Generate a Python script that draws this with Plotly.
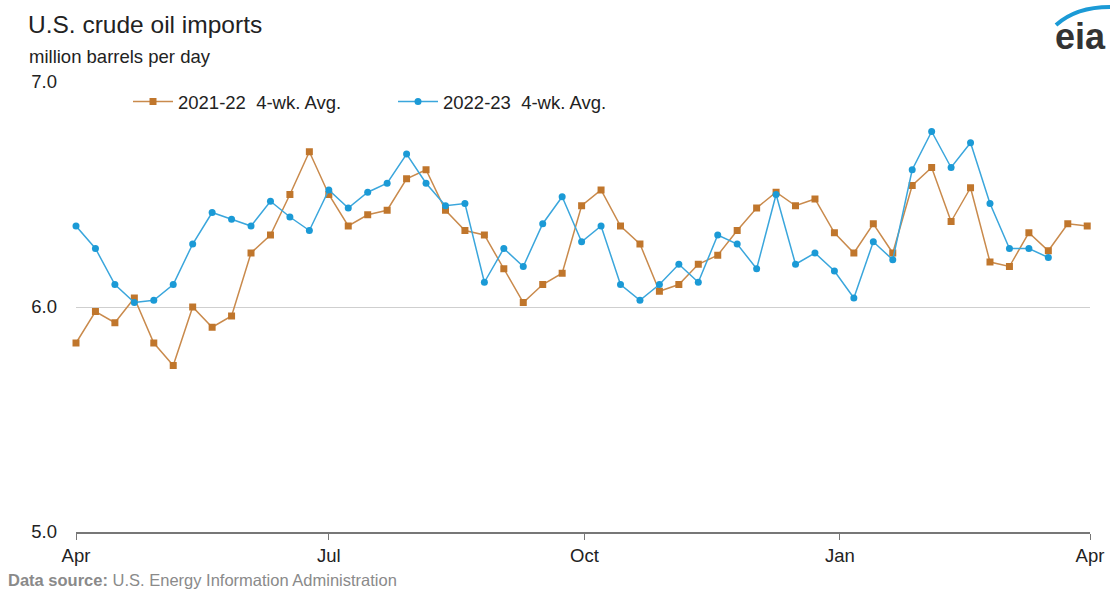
import pandas as pd
import plotly.graph_objects as go

# Week positions on the common Apr-to-Apr axis
weeks = pd.date_range("2022-04-01", periods=53, freq="7D")

imports_2021_22 = [
    5.84, 5.98, 5.93, 6.04, 5.84, 5.74, 6.00, 5.91, 5.96, 6.24,
    6.32, 6.50, 6.69, 6.50, 6.36, 6.41, 6.43, 6.57, 6.61, 6.43,
    6.34, 6.32, 6.17, 6.02, 6.10, 6.15, 6.45, 6.52, 6.36, 6.28,
    6.07, 6.10, 6.19, 6.23, 6.34, 6.44, 6.51, 6.45, 6.48, 6.33,
    6.24, 6.37, 6.24, 6.54, 6.62, 6.38, 6.53, 6.20, 6.18, 6.33,
    6.25, 6.37, 6.36,
]
imports_2022_23 = [
    6.36, 6.26, 6.10, 6.02, 6.03, 6.10, 6.28, 6.42, 6.39, 6.36,
    6.47, 6.40, 6.34, 6.52, 6.44, 6.51, 6.55, 6.68, 6.55, 6.45,
    6.46, 6.11, 6.26, 6.18, 6.37, 6.49, 6.29, 6.36, 6.10, 6.03,
    6.10, 6.19, 6.11, 6.32, 6.28, 6.17, 6.50, 6.19, 6.24, 6.16,
    6.04, 6.29, 6.21, 6.61, 6.78, 6.62, 6.73, 6.46, 6.26, 6.26,
    6.22,
]

tick_vals = ["2022-04-01", "2022-07-01", "2022-10-01", "2023-01-01", "2023-04-01"]
tick_text = ["Apr", "Jul", "Oct", "Jan", "Apr"]

ORANGE = "#c0762c"
BLUE = "#1b9ad6"

W, H = 1110, 590
L, R, T, B = 76, 20, 82, 58
pw, ph = W - L - R, H - T - B


def px2paper(px, py):
    return (px - L) / pw, 1 - (py - T) / ph


fig = go.Figure()
fig.add_trace(go.Scatter(
    x=weeks[:len(imports_2021_22)], y=imports_2021_22,
    name="2021-22  4-wk. Avg.", mode="lines+markers",
    line=dict(color="#c98a4c", width=1.5),
    marker=dict(symbol="square", size=7, color=ORANGE),
    cliponaxis=False,
))
fig.add_trace(go.Scatter(
    x=weeks[:len(imports_2022_23)], y=imports_2022_23,
    name="2022-23  4-wk. Avg.", mode="lines+markers",
    line=dict(color="#3aa6dc", width=1.5),
    marker=dict(symbol="circle", size=7, color=BLUE),
    cliponaxis=False,
))

lx, ly = px2paper(128, 102)

fig.update_layout(
    width=W, height=H,
    margin=dict(l=L, r=R, t=T, b=B),
    plot_bgcolor="white", paper_bgcolor="white",
    font=dict(family="Liberation Sans, Arial, sans-serif", size=15, color="#222"),
    showlegend=True,
    legend=dict(
        orientation="h", x=lx, y=ly, xanchor="left", yanchor="middle",
        font=dict(size=18.5, color="#222"), bgcolor="rgba(0,0,0,0)",
        itemwidth=40, entrywidth=210,
    ),
    xaxis=dict(
        type="date", range=["2022-04-01", "2023-04-01"],
        tickvals=tick_vals, ticktext=tick_text,
        showgrid=False, zeroline=False, automargin=False,
        showline=True, linecolor="#777", linewidth=1.5,
        ticks="outside", ticklen=6, tickcolor="#777",
        tickfont=dict(size=18.5, color="#222"),
    ),
    yaxis=dict(
        range=[5, 7], tickvals=[5, 6, 7], ticktext=["5.0", "6.0", "7.0"],
        showgrid=True, gridcolor="#cfcfcf", gridwidth=1,
        zeroline=False, showline=False, ticks="", automargin=False,
        tickfont=dict(size=18.5, color="#222"), ticklabelstandoff=18,
    ),
)

texts = [
    ("U.S. crude oil imports", 26, 24, dict(size=24.5, color="#222")),
    ("million barrels per day", 27, 57, dict(size=18.5, color="#222")),
    ("<b>Data source:</b> U.S. Energy Information Administration", 6, 580,
     dict(size=16.5, color="#8a8a8a")),
    ("<b>eia</b>", 1053, 37, dict(size=36, color="#333")),
]
for txt, px, py, f in texts:
    x, y = px2paper(px, py)
    fig.add_annotation(text=txt, x=x, y=y, xref="paper", yref="paper",
                       showarrow=False, font=f, xanchor="left", yanchor="middle")

# eia logo arc
x0, y0 = px2paper(1056, 25)
x1, y1 = px2paper(1076, 7)
x2, y2 = px2paper(1110, 7)
fig.add_shape(type="path", xref="paper", yref="paper",
              path=f"M {x0},{y0} Q {x1},{y1} {x2},{y2}",
              line=dict(color="#1b9ad6", width=4))

fig.write_html(
    "out.html",
    config={"displayModeBar": False},
    post_script="document.body.style.margin='0';document.body.style.overflow='hidden';",
)
